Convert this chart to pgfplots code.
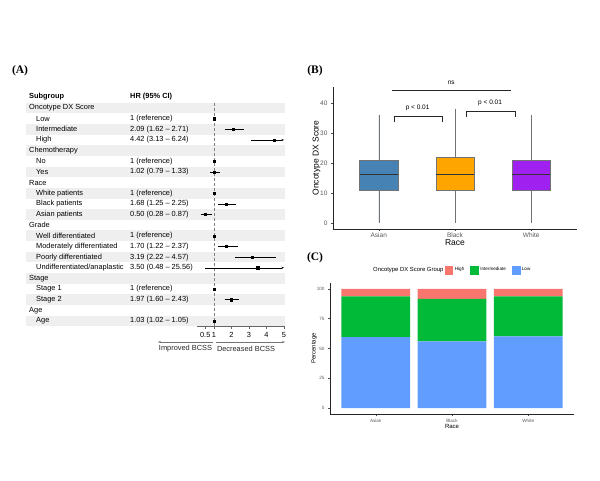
\documentclass[border=0pt]{standalone}
\usepackage{pgfplots}
\pgfplotsset{compat=1.18}
\usepgfplotslibrary{statistics}
\usetikzlibrary{arrows.meta}
\usepackage{fontspec}
\setmainfont{Liberation Sans}
\newfontfamily\panelfont{Liberation Serif}
\newcommand{\fs}[1]{\fontsize{#1}{#1}\selectfont}
\definecolor{stripe}{HTML}{EFEFEF}
\definecolor{asianc}{HTML}{4682B4}
\definecolor{blackc}{HTML}{FFA500}
\definecolor{whitec}{HTML}{A020F0}
\definecolor{highc}{HTML}{F8766D}
\definecolor{intc}{HTML}{00BA38}
\definecolor{lowc}{HTML}{619CFF}
\begin{document}
\begin{tikzpicture}[x=1pt,y=1pt]
\path[use as bounding box] (0,0) rectangle (600,480);
% panel letters
\node[font=\panelfont\bfseries\fs{11.5}] at (20,409) {(A)};
\node[font=\panelfont\bfseries\fs{11.5}] at (315,409) {(B)};
\node[font=\panelfont\bfseries\fs{11.5}] at (315,222) {(C)};
% ---------------- Panel A: forest plot ----------------
\foreach \v in {21,19,...,1}
  \fill[stripe] (26,{148.35+10.65*\v-5.325}) rectangle (285,{148.35+10.65*\v+5.325});
\node[anchor=west, inner sep=0, font=\bfseries\fs{7.4}] at (29,383) {Subgroup};
\node[anchor=west, inner sep=0, font=\bfseries\fs{7.4}] at (130,383) {HR (95\% CI)};
\foreach \v/\t in {21/Oncotype DX Score, 17/Chemotherapy, 14/Race, 10/Grade, 5/Stage, 2/Age}
  \node[anchor=west, inner sep=0, font=\fs{7.4}] at (29,{148.35+10.65*\v}) {\t};
\foreach \v/\t in {20/Low, 19/Intermediate, 18/High, 16/No, 15/Yes, 13/White patients, 12/Black patients, 11/Asian patients, 9/Well differentiated, 8/Moderately differentiated, 7/Poorly differentiated, 4/Stage 1, 3/Stage 2, 1/Age}
  \node[anchor=west, inner sep=0, font=\fs{7.4}] at (36,{148.35+10.65*\v}) {\t};
\node[anchor=west, inner sep=0, font=\fs{7.4}] at (36,{148.35+10.65*6}) {Undifferentiated/anaplastic};
\foreach \v/\t in {20/1 (reference), 19/2.09 (1.62 -- 2.71), 18/4.42 (3.13 -- 6.24), 16/1 (reference), 15/1.02 (0.79 -- 1.33), 13/1 (reference), 12/1.68 (1.25 -- 2.25), 11/0.50 (0.28 -- 0.87), 9/1 (reference), 8/1.70 (1.22 -- 2.37), 7/3.19 (2.22 -- 4.57), 6/3.50 (0.48 -- 25.56), 4/1 (reference), 3/1.97 (1.60 -- 2.43), 1/1.03 (1.02 -- 1.05)}
  \node[anchor=west, inner sep=0, font=\fs{7.4}] at (130,{148.35+10.65*\v}) {\t};
\draw[black!55, line width=0.4pt, -{Stealth[length=3pt,width=2.2pt]}] (213,138) -- (158,138);
\draw[black!55, line width=0.4pt, -{Stealth[length=3pt,width=2.2pt]}] (216,138) -- (285,138);
\node[font=\fs{7.4}, text=black!85] at (185.5,131.5) {Improved BCSS};
\node[font=\fs{7.4}, text=black!85] at (246,131.5) {Decreased BCSS};
\begin{axis}[at={(196.5pt,153.675pt)}, anchor=south west, scale only axis,
  width=87.5pt, height=223.65pt,
  xmin=0, xmax=5, ymin=0.5, ymax=21.5,
  axis x line*=bottom, axis y line=none,
  axis line style={-, black!60, line width=0.4pt},
  xtick={0.5,1,2,3,4,5}, xticklabels={0.5,1,2,3,4,5},
  tick align=outside, major tick length=2.5pt, tick style={black!60, line width=0.4pt},
  ticklabel style={font=\fs{7.4}},
  /pgf/number format/assume math mode=true,
  clip=false]
\addplot[black!50, densely dashed, line width=0.4pt] coordinates {(1,0.5) (1,21.5)};
\addplot[black, line width=0.5pt] coordinates {(1.62,19) (2.71,19)};
\addplot[black, line width=0.5pt, -{Stealth[length=2.5pt,width=2pt]}] coordinates {(3.13,18) (5,18)};
\addplot[black, line width=0.5pt] coordinates {(0.79,15) (1.33,15)};
\addplot[black, line width=0.5pt] coordinates {(1.25,12) (2.25,12)};
\addplot[black, line width=0.5pt] coordinates {(0.28,11) (0.87,11)};
\addplot[black, line width=0.5pt] coordinates {(1.22,8) (2.37,8)};
\addplot[black, line width=0.5pt] coordinates {(2.22,7) (4.57,7)};
\addplot[black, line width=0.5pt, -{Stealth[length=2.5pt,width=2pt]}] coordinates {(0.48,6) (5,6)};
\addplot[black, line width=0.5pt] coordinates {(1.60,3) (2.43,3)};
\addplot[black, line width=0.5pt] coordinates {(1.02,1) (1.05,1)};
\addplot[only marks, mark=square*, mark size=1.1pt, black] table {
x y
1 20
2.09 19
4.42 18
1 16
1.02 15
1 13
1.68 12
0.50 11
1 9
1.70 8
3.19 7
3.50 6
1 4
1.97 3
1.03 1
};
\end{axis}
% ---------------- Panel B: boxplots ----------------
\begin{axis}[at={(333pt,251pt)}, anchor=south west, scale only axis,
  width=244pt, height=142pt,
  xmin=0.4, xmax=3.6, ymin=-2, ymax=45.33,
  axis lines=left, axis line style={-, black!85, line width=0.5pt},
  xtick={1,2,3}, xticklabels={Asian,Black,White},
  ytick={0,10,20,30,40},
  tick align=outside, major tick length=2pt, tick style={black!70, line width=0.5pt},
  ticklabel style={font=\fs{6.5}, text=black!65},
  xticklabel style={yshift=1.5pt},
  xlabel={Race}, ylabel={Oncotype DX Score},
  label style={font=\fs{8.5}},
  xlabel shift=-5pt, ylabel shift=-7pt,
  /pgf/number format/assume math mode=true,
  clip=false,
  boxplot/draw direction=y,
  boxplot/every median/.style={line width=1pt, black!80}]
\addplot[boxplot prepared={draw position=1, lower whisker=0, lower quartile=11, median=16, upper quartile=21, upper whisker=36, box extend=0.5, whisker extend=0}, fill=asianc, draw=black!55, line width=0.5pt] coordinates {};
\addplot[boxplot prepared={draw position=2, lower whisker=0, lower quartile=11, median=16, upper quartile=22, upper whisker=38, box extend=0.5, whisker extend=0}, fill=blackc, draw=black!55, line width=0.5pt] coordinates {};
\addplot[boxplot prepared={draw position=3, lower whisker=0, lower quartile=11, median=16, upper quartile=21, upper whisker=36, box extend=0.5, whisker extend=0}, fill=whitec, draw=black!55, line width=0.5pt] coordinates {};
\addplot[black!85, line width=0.6pt] coordinates {(1.2,33.8) (1.2,35.4) (1.83,35.4) (1.83,33.8)};
\addplot[black!85, line width=0.6pt] coordinates {(2.15,35.4) (2.15,37.1) (2.79,37.1) (2.79,35.4)};
\addplot[black!85, line width=0.6pt] coordinates {(1.17,44.3) (2.74,44.3)};
\node[font=\fs{6.5}] at (axis cs:1.51,38.2) {p < 0.01};
\node[font=\fs{6.5}] at (axis cs:2.46,39.9) {p < 0.01};
\node[font=\fs{6.5}] at (axis cs:1.95,46.8) {ns};
\end{axis}
% ---------------- Panel C: stacked bars ----------------
\node[anchor=west, inner sep=0, font=\fs{5.9}] at (373,210) {Oncotype DX Score Group};
\begin{axis}[at={(330pt,66pt)}, anchor=south west, scale only axis,
  width=244pt, height=131pt,
  xmin=0.4, xmax=3.6, ymin=-5, ymax=105,
  ybar stacked, bar width=0.9,
  axis lines=left, axis line style={-, black!85, line width=0.5pt},
  xtick={1,2,3}, xticklabels={Asian,Black,White},
  ytick={0,25,50,75,100},
  tick align=outside, major tick length=2pt, tick style={black!70, line width=0.5pt},
  ticklabel style={font=\fs{4.6}, text=black!65},
  xlabel={Race}, ylabel={Percentage},
  label style={font=\fs{6}},
  xlabel shift=-5pt, ylabel shift=-7pt,
  /pgf/number format/assume math mode=true,
  legend style={at={(0.47,1.099)}, anchor=west, draw=none, fill=none, font=\fs{4.6},
    legend columns=-1, inner sep=0pt,
    /tikz/every even column/.append style={column sep=4pt}},
  clip=false]
\addlegendimage{legend image code/.code={\fill[highc] (0pt,-3.8pt) rectangle (7.6pt,3.8pt);}}
\addlegendimage{legend image code/.code={\fill[intc] (0pt,-3.8pt) rectangle (7.6pt,3.8pt);}}
\addlegendimage{legend image code/.code={\fill[lowc] (0pt,-3.8pt) rectangle (7.6pt,3.8pt);}}
\legend{High, Intermediate, Low}
\addplot[fill=lowc, draw=none] coordinates {(1,59.6) (2,55.9) (3,60.1)};
\addplot[fill=intc, draw=none] coordinates {(1,34.2) (2,35.7) (3,33.7)};
\addplot[fill=highc, draw=none] coordinates {(1,6.2) (2,8.4) (3,6.2)};
\end{axis}
\end{tikzpicture}
\end{document}
